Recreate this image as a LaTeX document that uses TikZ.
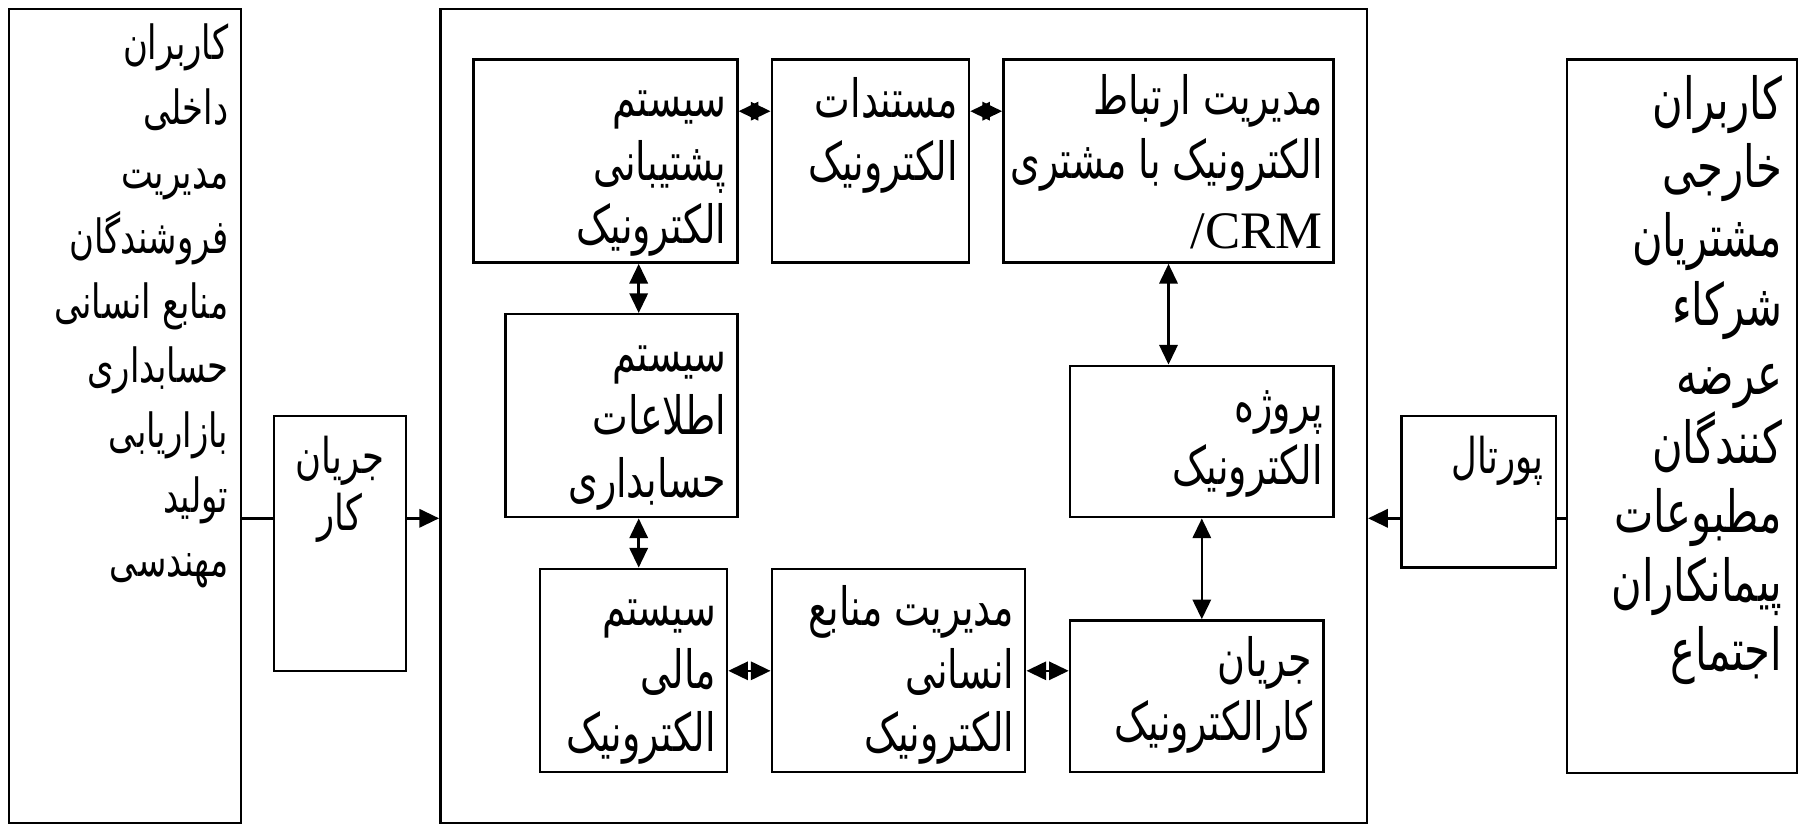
\documentclass[tikz,border=0pt]{standalone}
\usepackage{fontspec}
\setmainfont{Liberation Serif}
\newfontfamily\arabicfont[Script=Arabic, FakeStretch=0.72]{DejaVu Sans}
\TeXXeTstate=1
\newcommand{\fa}[1]{{\arabicfont\beginR #1\endR}}
\usetikzlibrary{positioning}
\usetikzlibrary{arrows.meta}

\begin{document}
\begin{tikzpicture}
	\tikzstyle{box}=[draw, rectangle, line width=0.7pt, inner sep=0pt]
	\tikzstyle{txt}=[align=right, inner sep=0pt, anchor=base east, font=\fontsize{15}{18}\selectfont]
	\tikzstyle{side}=[align=right, inner sep=0pt, font=\fontsize{13.4}{18.4}\selectfont]
	\tikzstyle{link}=[line width=0.7pt, {Triangle[length=5.6pt,width=5.2pt]}-{Triangle[length=5.6pt,width=5.2pt]}]
	\tikzstyle{feed}=[line width=0.7pt, -{Triangle[length=5.6pt,width=5.2pt]}]

	\useasboundingbox (0,0) rectangle (17.98,8.27);

	% outer blocks
	\node[box, minimum width=2.316cm, minimum height=8.141cm] (lusers) at (1.25,4.108) {};
	\node[box, minimum width=1.318cm, minimum height=2.546cm] (kar) at (3.40,2.835) {};
	\node[box, minimum width=9.266cm, minimum height=8.141cm] (main) at (9.036,4.108) {};
	\node[box, minimum width=1.548cm, minimum height=1.514cm] (portal) at (14.787,3.351) {};
	\node[box, minimum width=2.295cm, minimum height=7.133cm] (rusers) at (16.82,4.108) {};

	% inner blocks
	\node[box, minimum width=2.637cm, minimum height=2.03cm] (backup) at (6.055,6.659) {};
	\node[box, minimum width=1.973cm, minimum height=2.03cm] (docs) at (8.704,6.659) {};
	\node[box, minimum width=3.302cm, minimum height=2.03cm] (crm) at (11.685,6.659) {};
	\node[box, minimum width=2.316cm, minimum height=2.03cm] (acc) at (6.215,4.113) {};
	\node[box, minimum width=2.637cm, minimum height=1.514cm] (project) at (12.018,3.855) {};
	\node[box, minimum width=1.869cm, minimum height=2.03cm] (finance) at (6.336,1.567) {};
	\node[box, minimum width=2.535cm, minimum height=2.03cm] (hr) at (8.985,1.567) {};
	\node[box, minimum width=2.534cm, minimum height=1.513cm] (wflow) at (11.966,1.309) {};

	% texts (anchored at the baseline of their last line)
	\node[side, below left=0.15 and 0.13 of lusers.north east] (lusers-t) {\fa{کاربران}\\ \fa{داخلی}\\ \fa{مدیریت}\\ \fa{فروشندگان}\\ \fa{منابع انسانی}\\ \fa{حسابداری}\\ \fa{بازاریابی}\\ \fa{تولید}\\ \fa{مهندسی}};
	\node[side, align=center, below=0.2 of kar.north, font=\fontsize{14}{16.4}\selectfont] (kar-t) {\fa{جریان}\\ \fa{کار}};
	\node[side, below left=0.2 and 0.13 of portal.north east, font=\fontsize{14}{16.4}\selectfont] (portal-t) {\fa{پورتال}};
	\node[side, below left=0.16 and 0.15 of rusers.north east, font=\fontsize{16.5}{19.6}\selectfont] (rusers-t) {\fa{کاربران}\\ \fa{خارجی}\\ \fa{مشتریان}\\ \fa{شرکاء}\\ \fa{عرضه}\\ \fa{کنندگان}\\ \fa{مطبوعات}\\ \fa{پیمانکاران}\\ \fa{اجتماع}};

	\node[txt] (backup-t) at ([shift={(-0.115,-1.85)}]backup.north east) {\fa{سیستم}\\ \fa{پشتیبانی}\\ \fa{الکترونیک}};
	\node[txt] (docs-t) at ([shift={(-0.115,-1.22)}]docs.north east) {\fa{مستندات}\\ \fa{الکترونیک}};
	\node[txt] (crm-t) at ([shift={(-0.115,-1.90)}]crm.north east) {\fa{مدیریت ارتباط}\\ \fa{الکترونیک با مشتری}\\[2pt] /CRM};
	\node[txt] (acc-t) at ([shift={(-0.115,-1.85)}]acc.north east) {\fa{سیستم}\\ \fa{اطلاعات}\\ \fa{حسابداری}};
	\node[txt] (project-t) at ([shift={(-0.115,-1.20)}]project.north east) {\fa{پروژه}\\ \fa{الکترونیک}};
	\node[txt] (finance-t) at ([shift={(-0.115,-1.84)}]finance.north east) {\fa{سیستم}\\ \fa{مالی}\\ \fa{الکترونیک}};
	\node[txt] (hr-t) at ([shift={(-0.115,-1.84)}]hr.north east) {\fa{مدیریت منابع}\\ \fa{انسانی}\\ \fa{الکترونیک}};
	\node[txt] (wflow-t) at ([shift={(-0.115,-1.21)}]wflow.north east) {\fa{جریان}\\ \fa{کارالکترونیک}};

	% rows and columns of the links
	\coordinate (flow) at (0,3.087);
	\coordinate (toprow) at (0,7.158);
	\coordinate (lowrow) at (0,1.562);
	\coordinate (col) at (6.387,0);

	\draw[line width=0.7pt] (lusers.east |- flow) -- (kar.west |- flow);
	\draw[feed] (kar.east |- flow) -- (main.west |- flow);
	\draw[line width=0.7pt] (rusers.west |- flow) -- (portal.east |- flow);
	\draw[feed] (portal.west |- flow) -- (main.east |- flow);

	\draw[link] (backup.east |- toprow) -- (docs.west |- toprow);
	\draw[link] (docs.east |- toprow) -- (crm.west |- toprow);
	\draw[link] (col |- backup.south) -- (col |- acc.north);
	\draw[link] (col |- acc.south) -- (col |- finance.north);
	\draw[link] (crm.south) -- (crm.south |- project.north);
	\draw[link] (project.south) -- (project.south |- wflow.north);
	\draw[link] (finance.east |- lowrow) -- (hr.west |- lowrow);
	\draw[link] (hr.east |- lowrow) -- (wflow.west |- lowrow);
\end{tikzpicture}
\end{document}
